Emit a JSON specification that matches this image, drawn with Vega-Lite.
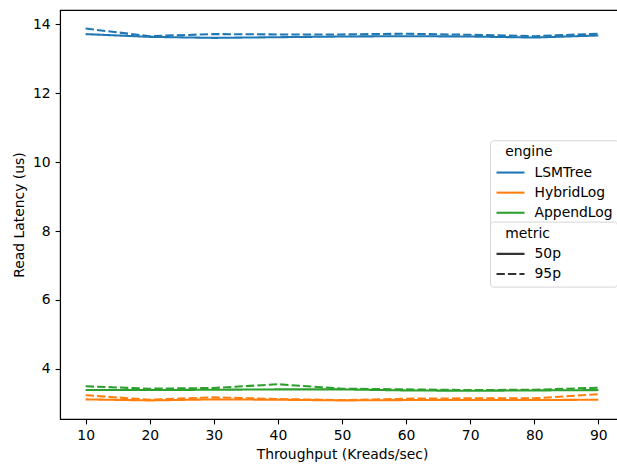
{
  "$schema": "https://vega.github.io/schema/vega-lite/v6.json",
  "width": 564,
  "height": 409,
  "autosize": "none",
  "padding": {"left": 60, "top": 10, "right": 0, "bottom": 46},
  "background": "white",
  "config": {
    "view": {"stroke": "black", "strokeWidth": 1.1},
    "font": "DejaVu Sans",
    "axis": {
      "grid": false,
      "domainColor": "black",
      "domainWidth": 1.1,
      "tickColor": "black",
      "tickWidth": 1.1,
      "tickSize": 4.9,
      "labelPadding": 4.9,
      "labelFont": "DejaVu Sans",
      "labelFontSize": 13.9,
      "labelColor": "black",
      "titleFont": "DejaVu Sans",
      "titleFontSize": 13.9,
      "titleFontWeight": "normal",
      "titleColor": "black"
    },
    "legend": {
      "orient": "none",
      "labelFont": "DejaVu Sans",
      "labelFontSize": 13.9,
      "labelColor": "black",
      "titleFont": "DejaVu Sans",
      "titleFontSize": 13.9,
      "titleFontWeight": "normal",
      "titleColor": "black",
      "symbolType": "M-1,0H3",
      "symbolStrokeWidth": 2.08,
      "symbolSize": 196,
      "labelOffset": 22.5,
      "rowPadding": 4.1,
      "titlePadding": 4.85,
      "padding": 5,
      "fillColor": "white",
      "strokeColor": "#d6d6d6",
      "cornerRadius": 3
    }
  },
  "data": {
    "values": [
      {"x": 10, "engine": "LSMTree", "metric": "50p", "value": 13.72},
      {"x": 20, "engine": "LSMTree", "metric": "50p", "value": 13.64},
      {"x": 30, "engine": "LSMTree", "metric": "50p", "value": 13.61},
      {"x": 40, "engine": "LSMTree", "metric": "50p", "value": 13.63},
      {"x": 50, "engine": "LSMTree", "metric": "50p", "value": 13.65},
      {"x": 60, "engine": "LSMTree", "metric": "50p", "value": 13.66},
      {"x": 70, "engine": "LSMTree", "metric": "50p", "value": 13.65},
      {"x": 80, "engine": "LSMTree", "metric": "50p", "value": 13.62},
      {"x": 90, "engine": "LSMTree", "metric": "50p", "value": 13.68},
      {"x": 10, "engine": "LSMTree", "metric": "95p", "value": 13.88},
      {"x": 20, "engine": "LSMTree", "metric": "95p", "value": 13.66},
      {"x": 30, "engine": "LSMTree", "metric": "95p", "value": 13.72},
      {"x": 40, "engine": "LSMTree", "metric": "95p", "value": 13.71},
      {"x": 50, "engine": "LSMTree", "metric": "95p", "value": 13.71},
      {"x": 60, "engine": "LSMTree", "metric": "95p", "value": 13.73},
      {"x": 70, "engine": "LSMTree", "metric": "95p", "value": 13.70},
      {"x": 80, "engine": "LSMTree", "metric": "95p", "value": 13.66},
      {"x": 90, "engine": "LSMTree", "metric": "95p", "value": 13.73},
      {"x": 10, "engine": "HybridLog", "metric": "50p", "value": 3.11},
      {"x": 20, "engine": "HybridLog", "metric": "50p", "value": 3.08},
      {"x": 30, "engine": "HybridLog", "metric": "50p", "value": 3.11},
      {"x": 40, "engine": "HybridLog", "metric": "50p", "value": 3.10},
      {"x": 50, "engine": "HybridLog", "metric": "50p", "value": 3.08},
      {"x": 60, "engine": "HybridLog", "metric": "50p", "value": 3.09},
      {"x": 70, "engine": "HybridLog", "metric": "50p", "value": 3.09},
      {"x": 80, "engine": "HybridLog", "metric": "50p", "value": 3.09},
      {"x": 90, "engine": "HybridLog", "metric": "50p", "value": 3.10},
      {"x": 10, "engine": "HybridLog", "metric": "95p", "value": 3.23},
      {"x": 20, "engine": "HybridLog", "metric": "95p", "value": 3.10},
      {"x": 30, "engine": "HybridLog", "metric": "95p", "value": 3.17},
      {"x": 40, "engine": "HybridLog", "metric": "95p", "value": 3.12},
      {"x": 50, "engine": "HybridLog", "metric": "95p", "value": 3.09},
      {"x": 60, "engine": "HybridLog", "metric": "95p", "value": 3.13},
      {"x": 70, "engine": "HybridLog", "metric": "95p", "value": 3.14},
      {"x": 80, "engine": "HybridLog", "metric": "95p", "value": 3.14},
      {"x": 90, "engine": "HybridLog", "metric": "95p", "value": 3.26},
      {"x": 10, "engine": "AppendLog", "metric": "50p", "value": 3.38},
      {"x": 20, "engine": "AppendLog", "metric": "50p", "value": 3.38},
      {"x": 30, "engine": "AppendLog", "metric": "50p", "value": 3.39},
      {"x": 40, "engine": "AppendLog", "metric": "50p", "value": 3.40},
      {"x": 50, "engine": "AppendLog", "metric": "50p", "value": 3.40},
      {"x": 60, "engine": "AppendLog", "metric": "50p", "value": 3.37},
      {"x": 70, "engine": "AppendLog", "metric": "50p", "value": 3.36},
      {"x": 80, "engine": "AppendLog", "metric": "50p", "value": 3.37},
      {"x": 90, "engine": "AppendLog", "metric": "50p", "value": 3.38},
      {"x": 10, "engine": "AppendLog", "metric": "95p", "value": 3.49},
      {"x": 20, "engine": "AppendLog", "metric": "95p", "value": 3.42},
      {"x": 30, "engine": "AppendLog", "metric": "95p", "value": 3.44},
      {"x": 40, "engine": "AppendLog", "metric": "95p", "value": 3.55},
      {"x": 50, "engine": "AppendLog", "metric": "95p", "value": 3.42},
      {"x": 60, "engine": "AppendLog", "metric": "95p", "value": 3.40},
      {"x": 70, "engine": "AppendLog", "metric": "95p", "value": 3.38},
      {"x": 80, "engine": "AppendLog", "metric": "95p", "value": 3.39},
      {"x": 90, "engine": "AppendLog", "metric": "95p", "value": 3.45}
    ]
  },
  "mark": {"type": "line", "strokeWidth": 2.08},
  "encoding": {
    "x": {
      "field": "x",
      "type": "quantitative",
      "title": "Throughput (Kreads/sec)",
      "scale": {"domain": [6, 94], "nice": false, "zero": false},
      "axis": {"values": [10, 20, 30, 40, 50, 60, 70, 80, 90], "titlePadding": 5}
    },
    "y": {
      "field": "value",
      "type": "quantitative",
      "title": "Read Latency (us)",
      "scale": {"domain": [2.54, 14.42], "nice": false, "zero": false},
      "axis": {"values": [4, 6, 8, 10, 12, 14], "titlePadding": 6}
    },
    "color": {
      "field": "engine",
      "type": "nominal",
      "scale": {"domain": ["LSMTree", "HybridLog", "AppendLog"], "range": ["#1f77b4", "#ff7f0e", "#2ca02c"]},
      "legend": {"title": "\u2800engine", "legendX": 430, "legendY": 130.3}
    },
    "strokeDash": {
      "field": "metric",
      "type": "nominal",
      "scale": {"domain": ["50p", "95p"], "range": [[1, 0], [8.33, 3.125]]},
      "legend": {"title": "\u2800metric", "legendX": 430, "legendY": 211.6, "symbolStrokeColor": "#333333", "labelExpr": "datum.label + '\u2800\u2800\u2800\u2800\u2800'"}
    }
  }
}
